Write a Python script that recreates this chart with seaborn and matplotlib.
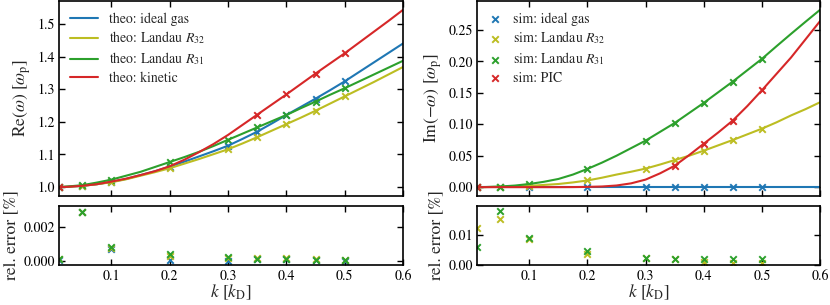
import numpy as np
import pandas as pd
import matplotlib
matplotlib.use("Agg")
import matplotlib.pyplot as plt
import seaborn as sns

# ---- data ----
k_theo = [0.01, 0.025, 0.05, 0.075, 0.1, 0.125, 0.15, 0.175, 0.2, 0.225, 0.25, 0.275, 0.3,
          0.325, 0.35, 0.375, 0.4, 0.425, 0.45, 0.475, 0.5, 0.525, 0.55, 0.575, 0.6]
re_theo_ideal = [1.000, 1.001, 1.004, 1.009, 1.016, 1.025, 1.037, 1.049, 1.063, 1.078, 1.094, 1.110, 1.127,
                 1.148, 1.170, 1.195, 1.221, 1.246, 1.271, 1.297, 1.324, 1.353, 1.382, 1.411, 1.440]
re_theo_r32 = [1.000, 1.001, 1.004, 1.009, 1.015, 1.024, 1.035, 1.046, 1.058, 1.072, 1.086, 1.101, 1.116,
               1.134, 1.153, 1.173, 1.193, 1.213, 1.234, 1.256, 1.278, 1.300, 1.322, 1.345, 1.368]
re_theo_r31 = [1.000, 1.002, 1.006, 1.014, 1.023, 1.035, 1.047, 1.062, 1.077, 1.092, 1.108, 1.126, 1.145,
               1.164, 1.183, 1.202, 1.221, 1.242, 1.262, 1.283, 1.303, 1.324, 1.345, 1.366, 1.387]
re_theo_kin = [1.000, 1.001, 1.004, 1.009, 1.017, 1.026, 1.037, 1.049, 1.064, 1.084, 1.107, 1.132, 1.160,
               1.191, 1.222, 1.253, 1.284, 1.316, 1.348, 1.379, 1.410, 1.443, 1.476, 1.509, 1.543]

im_theo_ideal = [0.0] * 25
im_theo_r32 = [0.0, 0.0001, 0.0005, 0.001, 0.002, 0.0035, 0.005, 0.0075, 0.0106, 0.015, 0.020, 0.0245, 0.0295,
               0.036, 0.043, 0.050, 0.058, 0.0665, 0.075, 0.084, 0.093, 0.103, 0.114, 0.124, 0.135]
im_theo_r31 = [0.0, 0.0002, 0.001, 0.0025, 0.005, 0.0085, 0.013, 0.020, 0.029, 0.039, 0.050, 0.062, 0.074,
               0.088, 0.102, 0.118, 0.134, 0.151, 0.168, 0.186, 0.204, 0.224, 0.2437, 0.263, 0.282]
im_theo_kin = [0.0, 0.0, 0.0, 0.0, 0.0, 0.0, 0.0, 0.0001, 0.0004, 0.001, 0.0026, 0.006, 0.012,
               0.022, 0.034, 0.051, 0.069, 0.087, 0.106, 0.129, 0.154, 0.180, 0.206, 0.235, 0.264]

k_sim = [0.01, 0.05, 0.1, 0.2, 0.3, 0.35, 0.4, 0.45, 0.5]
k_pic = [0.01, 0.35, 0.4, 0.45, 0.5]
re_sim_ideal = [1.000, 1.004, 1.016, 1.063, 1.127, 1.170, 1.221, 1.271, 1.324]
re_sim_r32 = [1.000, 1.004, 1.015, 1.058, 1.116, 1.153, 1.193, 1.234, 1.278]
re_sim_r31 = [1.000, 1.006, 1.023, 1.077, 1.145, 1.183, 1.221, 1.262, 1.303]
re_sim_pic = [1.000, 1.222, 1.284, 1.348, 1.410]

im_sim_ideal = [0.0] * 9
im_sim_r32 = [0.0, 0.0005, 0.002, 0.0106, 0.0295, 0.043, 0.058, 0.075, 0.093]
im_sim_r31 = [0.0, 0.001, 0.005, 0.029, 0.074, 0.102, 0.134, 0.168, 0.204]
im_sim_pic = [0.0, 0.034, 0.069, 0.106, 0.154]

err_re_ideal = [0.00005, 0.0029, 0.0007, 0.00003, 0.00002, 0.0001, 0.0001, 0.00005, 0.00002]
err_re_r32 = [0.0001, 0.0029, 0.00075, 0.0003, 0.0002, 0.00015, 0.00015, 0.0001, 0.00007]
err_re_r31 = [0.0001, 0.0029, 0.0008, 0.0004, 0.00022, 0.00012, 0.0001, 0.00005, 0.00003]

err_im_r32 = [0.0123, 0.0152, 0.0087, 0.0035, 0.0023, 0.0020, 0.0010, 0.0007, 0.0008]
err_im_r31 = [0.0058, 0.0177, 0.0088, 0.0047, 0.0023, 0.0020, 0.0019, 0.0019, 0.0019]

# ---- style ----
sns.set_style("ticks")
plt.rcParams.update({
    "font.family": ["STIXGeneral", "DejaVu Serif"],
    "mathtext.fontset": "stix",
    "xtick.direction": "in", "ytick.direction": "in",
    "xtick.top": True, "ytick.right": True,
    "xtick.major.size": 4, "ytick.major.size": 4,
    "xtick.major.width": 1.0, "ytick.major.width": 1.0,
    "xtick.major.pad": 3, "ytick.major.pad": 3,
    "axes.linewidth": 1.2,
    "xtick.labelsize": 10, "ytick.labelsize": 10,
    "axes.labelsize": 12.5,
    "xtick.color": "black", "ytick.color": "black",
    "axes.edgecolor": "black",
})

C_BLUE, C_YEL, C_GRN, C_RED = "#1f77b4", "#bcbd22", "#2ca02c", "#d62728"

W, H = 830, 305
fig = plt.figure(figsize=(W / 100, H / 100), dpi=100)

def ax_rect(x0, x1, ytop, ybot):
    return [x0 / W, (H - ybot) / H, (x1 - x0) / W, (ybot - ytop) / H]

axL = fig.add_axes(ax_rect(59, 403, 1, 196))
axLb = fig.add_axes(ax_rect(59, 403, 206, 265))
axR = fig.add_axes(ax_rect(477, 820, 1, 196))
axRb = fig.add_axes(ax_rect(477, 820, 206, 265))

mk = dict(marker="x", s=22, linewidth=1.4)

# left top
for y, c, lab in [(re_theo_ideal, C_BLUE, "theo: ideal gas"),
                  (re_theo_r32, C_YEL, r"theo: Landau $R_{32}$"),
                  (re_theo_r31, C_GRN, r"theo: Landau $R_{31}$"),
                  (re_theo_kin, C_RED, "theo: kinetic")]:
    sns.lineplot(x=k_theo, y=y, color=c, label=lab, ax=axL, linewidth=1.5)
for x, y, c in [(k_sim, re_sim_ideal, C_BLUE), (k_sim, re_sim_r32, C_YEL),
                (k_sim, re_sim_r31, C_GRN), (k_pic, re_sim_pic, C_RED)]:
    sns.scatterplot(x=x, y=y, color=c, ax=axL, **mk)
axL.legend(loc="upper left", frameon=False, fontsize=10, handlelength=2.0,
           labelspacing=0.3, borderaxespad=0.4)
axL.set_ylabel(r"$\mathrm{Re}(\omega)$ $[\omega_\mathrm{p}]$", labelpad=3)

# right top
for y, c in [(im_theo_ideal, C_BLUE), (im_theo_r32, C_YEL),
             (im_theo_r31, C_GRN), (im_theo_kin, C_RED)]:
    sns.lineplot(x=k_theo, y=y, color=c, ax=axR, linewidth=1.5)
for x, y, c, lab in [(k_sim, im_sim_ideal, C_BLUE, "sim: ideal gas"),
                     (k_sim, im_sim_r32, C_YEL, r"sim: Landau $R_{32}$"),
                     (k_sim, im_sim_r31, C_GRN, r"sim: Landau $R_{31}$"),
                     (k_pic, im_sim_pic, C_RED, "sim: PIC")]:
    sns.scatterplot(x=x, y=y, color=c, ax=axR, label=lab, **mk)
axR.legend(loc="upper left", frameon=False, fontsize=10, handlelength=1.0,
           labelspacing=0.3, borderaxespad=0.4)
axR.set_ylabel(r"$\mathrm{Im}(-\omega)$ $[\omega_\mathrm{p}]$", labelpad=3)

# bottoms
for y, c in [(err_re_ideal, C_BLUE), (err_re_r32, C_YEL), (err_re_r31, C_GRN)]:
    sns.scatterplot(x=k_sim, y=y, color=c, ax=axLb, **mk)
for y, c in [(err_im_r32, C_YEL), (err_im_r31, C_GRN)]:
    sns.scatterplot(x=k_sim, y=y, color=c, ax=axRb, **mk)
axLb.set_ylim(-0.00024, 0.00324)
axLb.set_yticks([0.0, 0.002])
axLb.set_yticklabels(["0.000", "0.002"])
axRb.set_ylim(0.0, 0.0194)
axRb.set_yticks([0.0, 0.01])
axRb.set_yticklabels(["0.00", "0.01"])

axL.set_yticks([1.0, 1.1, 1.2, 1.3, 1.4, 1.5])
axR.set_yticks([0.0, 0.05, 0.10, 0.15, 0.20, 0.25])
axR.set_yticklabels(["0.00", "0.05", "0.10", "0.15", "0.20", "0.25"])

for a in (axL, axLb, axR, axRb):
    a.set_xlim(0.01, 0.6)
    a.set_xticks([0.1, 0.2, 0.3, 0.4, 0.5, 0.6])
for a in (axL, axR):
    a.tick_params(labelbottom=False)
for a in (axLb, axRb):
    a.set_ylabel("rel. error [%]", labelpad=3)
    a.set_xlabel(r"$k$ $[k_\mathrm{D}]$", labelpad=0)
    a.set_xticklabels(["0.1", "0.2", "0.3", "0.4", "0.5", "0.6"])

fig.savefig("out.png", dpi=100)
